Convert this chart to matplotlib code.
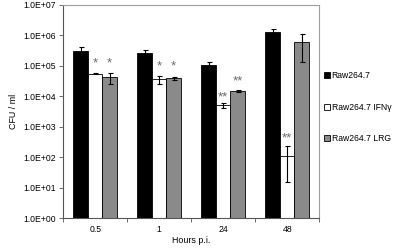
import numpy as np
import matplotlib.pyplot as plt
from matplotlib.ticker import FuncFormatter, FixedLocator

plt.rcParams['font.family'] = ['Liberation Sans', 'DejaVu Sans']

# Datos
hours = ["0.5", "1", "24", "48"]
series = ["Raw264.7", "Raw264.7 IFNγ", "Raw264.7 LRG"]
raw = [3.0e5, 2.6e5, 1.04e5, 1.28e6]
raw_err = [1.2e5, 0.7e5, 0.3e5, 0.37e6]
ifn = [5.5e4, 3.6e4, 5.2e3, 1.1e2]
ifn_lo = [0.2e4, 1.1e4, 1.1e3, 95]
ifn_hi = [0.2e4, 1.1e4, 1.0e3, 1.2e2]
lrg = [4.2e4, 3.9e4, 1.49e4, 6.0e5]
lrg_err = [1.6e4, 0.5e4, 0.11e4, 4.7e5]
stars_ifn = ["*", "*", "**", "**"]
stars_lrg = ["*", "*", "**", ""]

fig = plt.figure(figsize=(3.97, 2.48), dpi=100)
ax = fig.add_axes([0.159, 0.12, 0.645, 0.861])

x = np.arange(len(hours))
w = 0.227
colors = ["black", "white", "#8a8a8a"]
err_kw = dict(ecolor="black", elinewidth=0.8, capsize=1.8, capthick=0.8)

ax.bar(x - w, raw, w, color=colors[0], edgecolor="black", lw=0.6,
       yerr=raw_err, error_kw=err_kw, label=series[0])
ax.bar(x, ifn, w, color=colors[1], edgecolor="black", lw=0.6,
       yerr=[ifn_lo, ifn_hi], error_kw=err_kw, label=series[1])
ax.bar(x + w, lrg, w, color=colors[2], edgecolor="black", lw=0.6,
       yerr=lrg_err, error_kw=err_kw, label=series[2])

# Asteriscos
star_y_ifn = [7.5e4, 5.8e4, 5.8e3, 2.6e2]
star_y_lrg = [7.5e4, 5.8e4, 1.9e4, 1]
for i in range(len(hours)):
    ax.text(x[i], star_y_ifn[i], stars_ifn[i], ha="center", va="bottom",
            fontsize=9.5, color="#6a6a6a")
    if stars_lrg[i]:
        ax.text(x[i] + w, star_y_lrg[i], stars_lrg[i], ha="center", va="bottom",
                fontsize=9.5, color="#6a6a6a")

ax.set_yscale("log")
ax.set_ylim(1, 1e7)
ax.set_xlim(-0.5, 3.5)
ax.yaxis.set_major_locator(FixedLocator([10.0**k for k in range(8)]))
ax.yaxis.set_minor_locator(FixedLocator([]))
ax.yaxis.set_major_formatter(FuncFormatter(lambda v, p: "1.0E+%02d" % round(np.log10(v))))
ax.set_xticks(x)
ax.set_xticklabels(hours)
ax.set_xticks(np.arange(-0.5, 4.0, 1.0), minor=True)
ax.tick_params(axis="x", which="major", length=0, pad=5, labelsize=6.2)
ax.tick_params(axis="x", which="minor", length=3, width=0.6, color="#555555")
ax.tick_params(axis="y", length=3, width=0.6, color="#555555", labelsize=6.2, pad=2)

for s in ["top", "right"]:
    ax.spines[s].set_color("#a0a0a0")
    ax.spines[s].set_linewidth(0.8)
for s in ["left", "bottom"]:
    ax.spines[s].set_color("#555555")
    ax.spines[s].set_linewidth(0.8)

ax.set_ylabel("CFU / ml", fontsize=6.4, labelpad=4)
ax.set_xlabel("Hours p.i.", fontsize=6.4, labelpad=1)

ax.legend(loc="center left", bbox_to_anchor=(1.005, 0.52), frameon=False,
          fontsize=6.2, handlelength=0.7, handleheight=0.7, handletextpad=0.2,
          labelspacing=2.6, borderaxespad=0)

plt.savefig("out.png", dpi=100)
